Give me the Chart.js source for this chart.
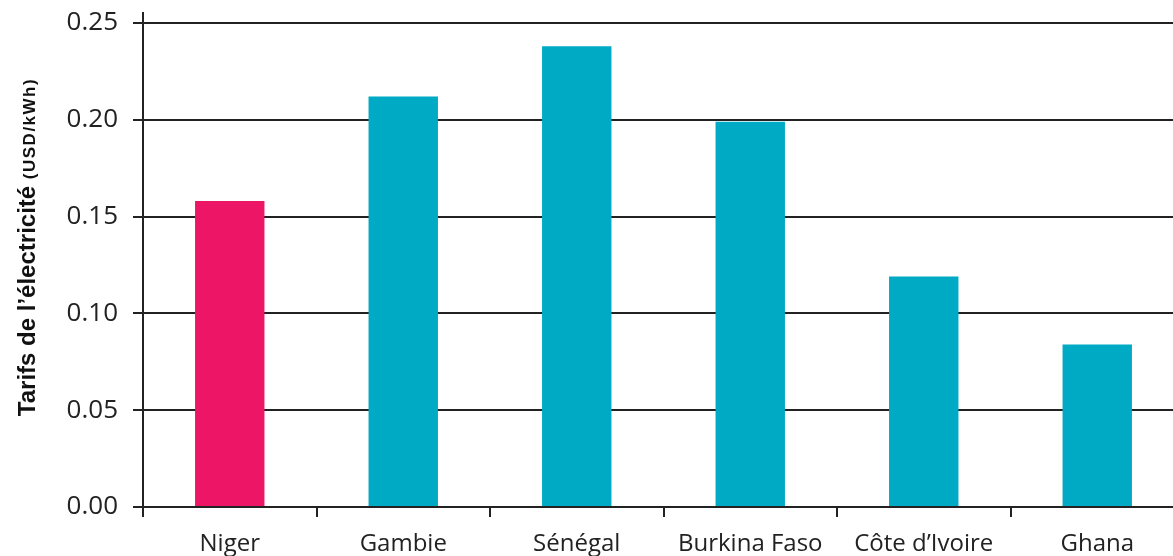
<!DOCTYPE html>
<html>
<head>
<meta charset="utf-8">
<script src="https://cdn.jsdelivr.net/npm/chart.js@4.4.1/dist/chart.umd.min.js"></script>
<style>
  html, body { margin: 0; padding: 0; overflow: hidden; background: #fff; }
  #wrap { width: 1184px; height: 556px; position: relative; }
</style>
</head>
<body>
<div id="wrap"><canvas id="chart"></canvas></div>
<script>
// Tarifs de l'électricité par pays (USD/kWh)
const pays = ['Niger', 'Gambie', 'Sénégal', 'Burkina Faso', 'Côte d\u2019Ivoire', 'Ghana'];
const tarifs = [0.158, 0.212, 0.238, 0.199, 0.119, 0.084];
const couleurs = ['#ED1566', '#00A9C4', '#00A9C4', '#00A9C4', '#00A9C4', '#00A9C4'];

const titreAxe = 'Tarifs de l\u2019électricité ';
const uniteAxe = '(USD/kWh)';

const police = "'Open Sans', 'Noto Sans', sans-serif";
const encre = '#222';

// Axe vertical qui dépasse un peu la zone du graphique + titre de l'axe en deux tailles
const axeEtTitre = {
  id: 'axeEtTitre',
  afterDraw(chart) {
    const { ctx, chartArea } = chart;
    ctx.save();
    ctx.strokeStyle = encre;
    ctx.lineWidth = 2;
    ctx.beginPath();
    ctx.moveTo(chartArea.left, chartArea.top - 11);
    ctx.lineTo(chartArea.left, chartArea.bottom + 8);
    ctx.stroke();

    ctx.translate(35, 247);
    ctx.rotate(-Math.PI / 2);
    ctx.fillStyle = '#111';
    ctx.textBaseline = 'alphabetic';
    const grand = "bold 24px 'Liberation Sans', Arial, sans-serif";
    const petit = "bold 17px 'Liberation Sans', Arial, sans-serif";
    ctx.font = grand;
    const w1 = ctx.measureText(titreAxe).width;
    ctx.font = petit;
    ctx.letterSpacing = '1.5px';
    const w2 = ctx.measureText(uniteAxe).width;
    let x = -(w1 + w2) / 2;
    ctx.fillText(uniteAxe, x + w1, 0);
    ctx.letterSpacing = '0px';
    ctx.font = grand;
    ctx.fillText(titreAxe, x, 0);
    ctx.restore();
  }
};

new Chart(document.getElementById('chart'), {
  type: 'bar',
  data: {
    labels: pays,
    datasets: [{
      data: tarifs,
      backgroundColor: couleurs,
      barPercentage: 0.4,
      categoryPercentage: 1
    }]
  },
  options: {
    responsive: true,
    maintainAspectRatio: false,
    animation: false,
    layout: { padding: { top: 23, right: 0, bottom: 0, left: 0 } },
    plugins: {
      legend: { display: false },
      tooltip: { enabled: false }
    },
    scales: {
      x: {
        offset: true,
        border: { display: false },
        grid: {
          offset: true,
          drawOnChartArea: false,
          drawTicks: true,
          tickLength: 10,
          color: encre,
          lineWidth: 2
        },
        ticks: {
          color: encre,
          font: { family: police, size: 24 },
          padding: 13,
          maxRotation: 0,
          autoSkip: false
        },
        afterFit(scale) { scale.height = 49; }
      },
      y: {
        min: 0,
        max: 0.25,
        border: { display: false },
        grid: {
          color: encre,
          lineWidth: 2,
          tickLength: 10
        },
        ticks: {
          stepSize: 0.05,
          color: encre,
          font: { family: police, size: 26 },
          padding: 15,
          callback: v => v.toFixed(2)
        },
        afterFit(scale) {
          scale.width = 143;
          // la marge du haut est fixée par layout.padding
          scale.paddingTop = 0;
          scale.paddingBottom = 0;
        }
      }
    }
  },
  plugins: [axeEtTitre]
});
</script>
</body>
</html>
